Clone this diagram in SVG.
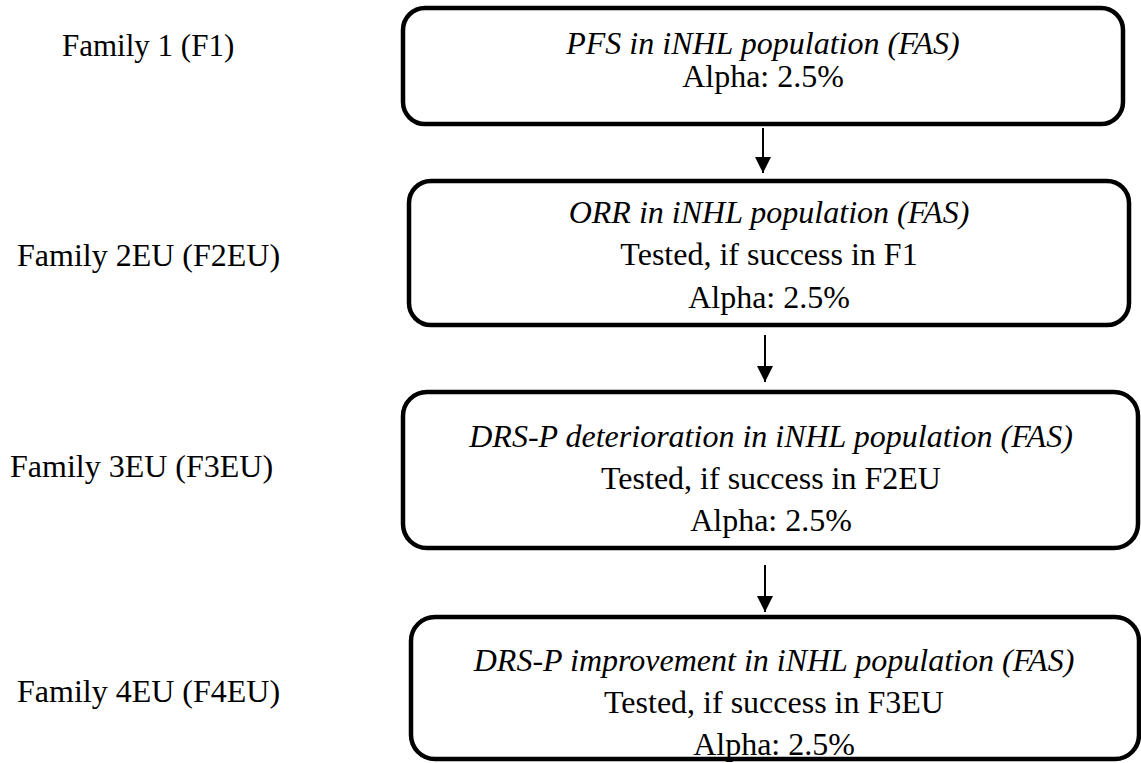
<svg xmlns="http://www.w3.org/2000/svg" width="1141" height="763" viewBox="0 0 1141 763">
<style>
.box{fill:#fff;stroke:#000;stroke-width:4.5}
.t{font-family:"Liberation Serif","Times New Roman",serif;font-size:32px;fill:#000}
.c{text-anchor:middle}
.i{font-style:italic}
.conn{stroke:#000;stroke-width:2;fill:none}
</style>
<defs>
<marker id="ah" markerUnits="userSpaceOnUse" markerWidth="16" markerHeight="16" viewBox="0 0 16 16" refX="16" refY="8" orient="auto">
<path d="M0,0 L16,8 L0,16 Z" fill="#000"/>
</marker>
</defs>
<rect width="1141" height="763" fill="#fff"/>
<g id="labels">
<text class="t" x="62" y="56" style="font-size:31px">Family 1 (F1)</text>
<text class="t" x="17" y="266">Family 2EU (F2EU)</text>
<text class="t" x="10" y="477">Family 3EU (F3EU)</text>
<text class="t" x="17" y="702">Family 4EU (F4EU)</text>
</g>
<g id="connectors">
<line class="conn" x1="763" y1="128" x2="763" y2="173" marker-end="url(#ah)"/>
<line class="conn" x1="765" y1="335" x2="765" y2="382" marker-end="url(#ah)"/>
<line class="conn" x1="765" y1="565" x2="765" y2="612" marker-end="url(#ah)"/>
</g>
<g id="node1">
<rect class="box" x="403" y="8" width="720" height="116" rx="22"/>
<text class="t c i" x="763" y="54">PFS in iNHL population (FAS)</text>
<text class="t c" x="763" y="87">Alpha: 2.5%</text>
</g>
<g id="node2">
<rect class="box" x="409" y="181" width="720" height="144" rx="22"/>
<text class="t c i" x="769" y="223">ORR in iNHL population (FAS)</text>
<text class="t c" x="769" y="265">Tested, if success in F1</text>
<text class="t c" x="769" y="308">Alpha: 2.5%</text>
</g>
<g id="node3">
<rect class="box" x="403" y="392" width="735" height="156" rx="24"/>
<text class="t c i" x="771" y="447">DRS-P deterioration in iNHL population (FAS)</text>
<text class="t c" x="771" y="489">Tested, if success in F2EU</text>
<text class="t c" x="771" y="531">Alpha: 2.5%</text>
</g>
<g id="node4">
<rect class="box" x="411" y="617" width="728" height="142" rx="24"/>
<text class="t c i" x="774" y="671">DRS-P improvement in iNHL population (FAS)</text>
<text class="t c" x="774" y="713">Tested, if success in F3EU</text>
<text class="t c" x="774" y="755">Alpha: 2.5%</text>
</g>
</svg>
